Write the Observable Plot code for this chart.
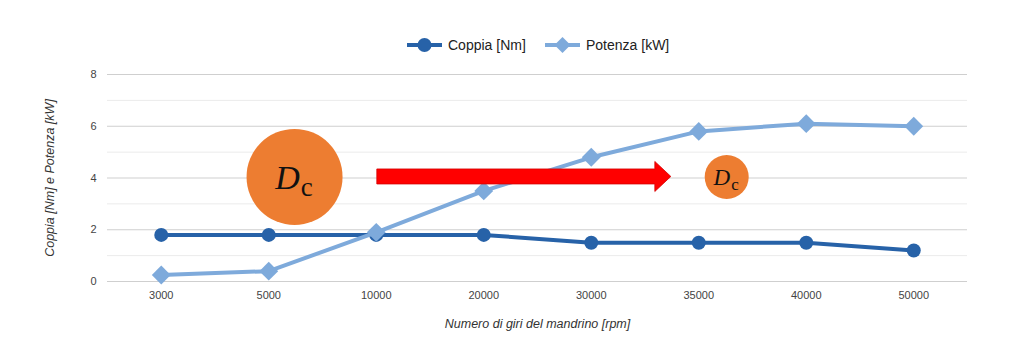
<!DOCTYPE html>
<html>
<head>
<meta charset="utf-8">
<script src="https://cdn.jsdelivr.net/npm/d3@7"></script>
<script src="https://cdn.jsdelivr.net/npm/@observablehq/plot@0.6"></script>
<style>
  html, body { margin: 0; padding: 0; background: #fff; }
  #wrap { position: relative; width: 1024px; height: 353px; font-family: "Liberation Sans", Arial, sans-serif; }
  #legend { position: absolute; top: 35px; left: 0; width: 1024px; height: 20px; }
  .item { position: absolute; top: 0; display: flex; align-items: center; font-size: 14px; color: #222; }
  .item svg { margin-right: 6px; }
</style>
</head>
<body>
<div id="wrap">
  <div id="chart"></div>
  <div id="legend"></div>
</div>
<script>
// ---- data ----
const rpm = ["3000", "5000", "10000", "20000", "30000", "35000", "40000", "50000"];
const coppia = [1.8, 1.8, 1.8, 1.8, 1.5, 1.5, 1.5, 1.2];
const potenza = [0.25, 0.4, 1.9, 3.5, 4.8, 5.8, 6.1, 6.0];
const yTicks = [0, 2, 4, 6, 8];
const yMinor = [1, 3, 5, 7];
const seriesNames = ["Coppia [Nm]", "Potenza [kW]"];
const seriesColors = ["#2762a8", "#7eaadb"];
// annotations, in chart units (x = category index, y = value)
const circles = [{x: 1.24, y: 4.04, r: 48, size: 34, sub: 27}, {x: 5.26, y: 4.04, r: 22, size: 23, sub: 17}];
const arrows = [{x1: 2.01, x2: 4.745, y: 4.04}];

const idx = rpm.map((_, i) => i);
const cData = idx.map(i => ({i, v: coppia[i]}));
const pData = idx.map(i => ({i, v: potenza[i]}));

const arrowMark = (index, scales) => {
  const g = d3.create("svg:g");
  for (const a of arrows) {
    const x1 = scales.x(a.x1), x2 = scales.x(a.x2), y = scales.y(a.y);
    const hl = 16, sh = 7.5, hh = 15;
    const pts = [[x1, y - sh], [x2 - hl, y - sh], [x2 - hl, y - hh], [x2, y], [x2 - hl, y + hh], [x2 - hl, y + sh], [x1, y + sh]];
    g.append("polygon").attr("points", pts.map(p => p.join(",")).join(" "))
      .attr("fill", "#ff0000").attr("stroke", "#d40000").attr("stroke-width", 0.8);
  }
  return g.node();
};

const labelMark = (index, scales) => {
  const g = d3.create("svg:g");
  for (const c of circles) {
    const cx = scales.x(c.x), cy = scales.y(c.y);
    const t = g.append("text").attr("x", cx).attr("y", cy + c.size * 0.36)
      .attr("text-anchor", "middle")
      .attr("font-family", "'Liberation Serif', 'Times New Roman', serif")
      .attr("fill", "#111");
    t.append("tspan").attr("font-style", "italic").attr("font-size", c.size).text("D");
    t.append("tspan").attr("font-size", c.sub).attr("dy", c.size * 0.22).attr("dx", 1).text("c");
  }
  return g.node();
};

const plot = Plot.plot({
  width: 1024,
  height: 353,
  marginLeft: 107,
  marginRight: 57,
  marginTop: 74,
  marginBottom: 72,
  style: {fontFamily: "'Liberation Sans', Arial, sans-serif", fontSize: "11px", color: "#444", background: "#fff"},
  x: {domain: [-0.5, 7.5], ticks: idx, tickFormat: i => rpm[i], tickSize: 0, tickPadding: 10,
      label: "Numero di giri del mandrino [rpm]", labelAnchor: "center", labelOffset: 46, labelArrow: "none"},
  y: {domain: [0, 8], ticks: yTicks, tickSize: 0, tickPadding: 11,
      label: "Coppia [Nm] e Potenza [kW]", labelAnchor: "center", labelOffset: 62, labelArrow: "none"},
  marks: [
    Plot.ruleY(yMinor, {stroke: "#ebebeb", strokeWidth: 1}),
    Plot.ruleY(yTicks, {stroke: "#cfcfcf", strokeWidth: 1}),
    Plot.line(cData, {x: "i", y: "v", stroke: seriesColors[0], strokeWidth: 4}),
    Plot.dot(cData, {x: "i", y: "v", r: 7, fill: seriesColors[0], stroke: seriesColors[0], strokeWidth: 0}),
    Plot.line(pData, {x: "i", y: "v", stroke: seriesColors[1], strokeWidth: 4}),
    Plot.dot(pData, {x: "i", y: "v", symbol: "diamond2", r: 8.5, fill: seriesColors[1], stroke: seriesColors[1], strokeWidth: 0}),
    Plot.dot(circles, {x: "x", y: "y", r: "r", fill: "#ed7d31"}),
    arrowMark,
    labelMark
  ],
  r: {type: "identity"}
});
document.getElementById("chart").appendChild(plot);
// italic axis titles
d3.select(plot).selectAll("[aria-label='x-axis label'] text, [aria-label='y-axis label'] text")
  .style("font-style", "italic").style("font-size", "12.5px").attr("fill", "#333");

// legend
const legend = d3.select("#legend");
const legendX = [407, 545];
seriesNames.forEach((name, k) => {
  const item = legend.append("div").attr("class", "item").style("left", legendX[k] + "px");
  const s = item.append("svg").attr("width", 35).attr("height", 20);
  s.append("line").attr("x1", 0).attr("x2", 35).attr("y1", 10).attr("y2", 10)
    .attr("stroke", seriesColors[k]).attr("stroke-width", 4);
  if (k === 0) s.append("circle").attr("cx", 17.5).attr("cy", 10).attr("r", 7).attr("fill", seriesColors[k]);
  else s.append("path").attr("d", "M17.5,2 L25.5,10 L17.5,18 L9.5,10 Z").attr("fill", seriesColors[k]);
  item.append("span").text(name);
});
</script>
</body>
</html>
